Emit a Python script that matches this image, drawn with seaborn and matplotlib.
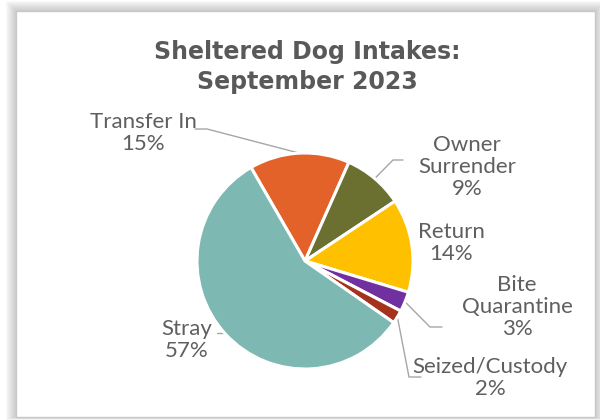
import numpy as np
import matplotlib
matplotlib.use("Agg")
import matplotlib.pyplot as plt
import seaborn as sns
from matplotlib.patches import Rectangle

# --- Data ---
categories = ["Transfer In", "Owner Surrender", "Return", "Bite Quarantine", "Seized/Custody", "Stray"]
label_text = ["Transfer In", "Owner\nSurrender", "Return", "Bite\nQuarantine", "Seized/Custody", "Stray"]
shares = [15, 9, 14, 3, 2, 57]
colors = ["#E2622A", "#6B6F2F", "#FFC000", "#7030A0", "#A5321E", "#7EB8B2"]

sns.set_theme(style="white")
plt.rcParams["font.family"] = ["Lato", "DejaVu Sans"]

W, H = 600, 420
CX, CY, R = 305, 261, 108   # pie centre / radius in pixels

fig = plt.figure(figsize=(6, 4.2), dpi=100)
fig.patch.set_facecolor("white")

# frame with soft shadow
for i in range(10, 0, -1):
    fig.patches.append(Rectangle(((16 - i) / W, (3 - i * 0.3) / H), (579 + 2 * i) / W, (406 + i * 1.3) / H,
                                 transform=fig.transFigure, facecolor="#808080", alpha=0.045,
                                 edgecolor="none", zorder=-3))
fig.patches.append(Rectangle((16 / W, 3 / H), 579 / W, 406 / H, transform=fig.transFigure,
                             facecolor="white", edgecolor="#C8C8C8", linewidth=1.0, zorder=-2))

ax = fig.add_axes([0, 0, 1, 1])
ax.axis("off")
ax.patch.set_alpha(0)

wedges, _ = ax.pie(shares, colors=colors, startangle=120, counterclock=False, radius=1,
                   center=(0, 0), wedgeprops=dict(edgecolor="white", linewidth=2.2))
ax.set_aspect("auto")
ax.set_xlim(-CX / R, (W - CX) / R)
ax.set_ylim((CY - H) / R, CY / R)


def px(x, y):
    return (x - CX) / R, (CY - y) / R


# label positions (pixel centres of text blocks) and leader elbows
label_pos = {
    "Transfer In": (143, 133),
    "Owner Surrender": (467, 167),
    "Return": (451, 243),
    "Bite Quarantine": (517, 307),
    "Seized/Custody": (490, 378),
    "Stray": (187, 340),
}
leaders = {
    "Transfer In": [(195, 129), (207, 129)],
    "Owner Surrender": [(403, 160), (393, 160)],
    "Bite Quarantine": [(442, 327), (430, 327)],
    "Seized/Custody": [(421, 377), (409, 377)],
    "Stray": [(217, 333), (228, 333)],
}

text_color = "#5F5F5F"
for w, cat, txt, pct in zip(wedges, categories, label_text, shares):
    lx, ly = px(*label_pos[cat])
    ax.text(lx, ly, f"{txt}\n{pct}%", ha="center", va="center", fontsize=16,
            color=text_color, linespacing=1.1)
    if cat in leaders:
        mid = np.deg2rad((w.theta1 + w.theta2) / 2)
        pts = [px(*p) for p in leaders[cat]]
        if cat == "Stray":
            xs = [pts[0][0], pts[1][0]]
            ys = [pts[0][1], pts[1][1]]
        else:
            xs = [p[0] for p in pts] + [np.cos(mid)]
            ys = [p[1] for p in pts] + [np.sin(mid)]
        ax.plot(xs, ys, color="#A6A6A6", linewidth=1.0, zorder=0.5)

fig.text(307 / W, 1 - 67 / H, "Sheltered Dog Intakes:\nSeptember 2023", ha="center", va="center",
         fontsize=17, fontweight="bold", color="#595959", linespacing=1.3,
         family=["DejaVu Sans"])

fig.savefig("out.png", dpi=100, facecolor="white")
